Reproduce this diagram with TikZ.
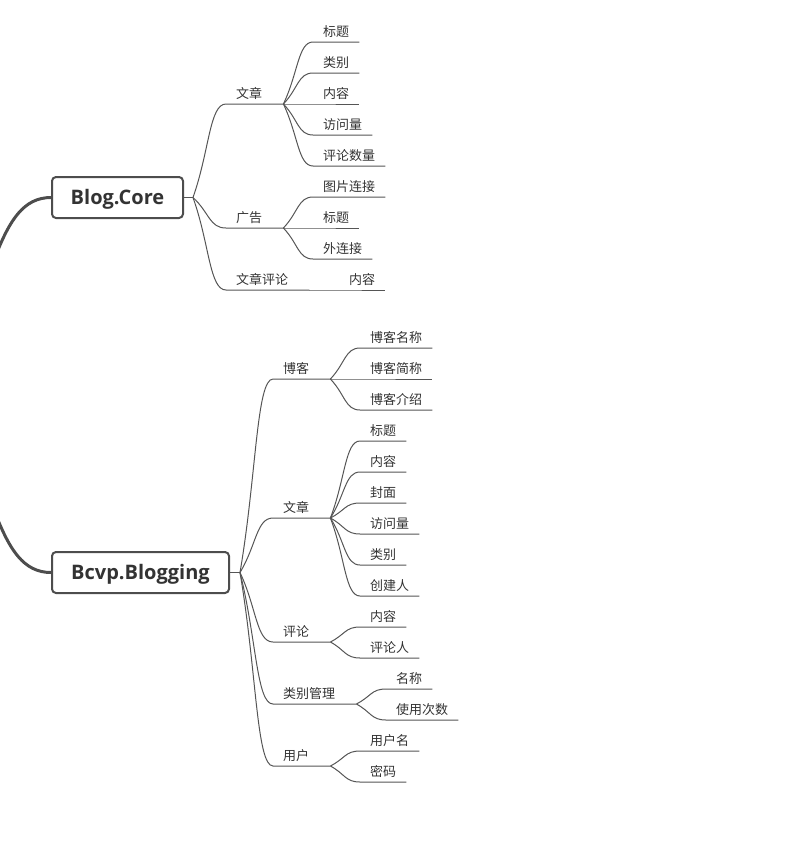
\documentclass[tikz,border=0pt]{standalone}
\usepackage{fontspec}
\setmainfont{Open Sans}
\newfontfamily\cjk{Noto Sans CJK SC}
\usetikzlibrary{calc}
\definecolor{inkgray}{HTML}{333333}
\definecolor{linegray}{HTML}{555555}
\definecolor{boxgray}{HTML}{4D4D4D}
\tikzset{
  rootbox/.style={draw=boxgray, line width=2pt, rounded corners=4pt, fill=white,
    minimum height=41pt, inner sep=0pt, text height=14.5pt, text depth=0pt, text=inkgray,
    font=\fontsize{20}{24}\selectfont\bfseries},
  topic/.style={anchor=south west, inner xsep=10pt, inner ysep=3pt,
    text height=10pt, text depth=2pt, text=inkgray,
    font=\cjk\fontsize{13}{15}\selectfont},
  twig/.style={to path={.. controls ($(\tikztostart)!.5!(\tikztotarget)$)
    and ($(\tikztotarget)!.5!(\tikztostart|-\tikztotarget)$) .. (\tikztotarget) \tikztonodes}},
  line/.style={draw=linegray, line width=1pt},
  limb/.style={draw=boxgray, line width=3pt}
}

\begin{document}
\begin{tikzpicture}[x=1pt,y=-1pt]
 \useasboundingbox (0,0) rectangle (807,865);
 % two main topics
 \node[rootbox, minimum width=131pt] (core) at (117.5,197.5) {Blog.Core};
 \node[rootbox, minimum width=177pt] (bcvp) at (140.5,572.5) {Bcvp.Blogging};
 \coordinate (fcore) at ([xshift=9pt]core.east);
 \coordinate (fbcvp) at ([xshift=10pt]bcvp.east);
 \begin{scope}
  \clip (0,0) rectangle (807,865);
  \coordinate (hub) at (-60,385);
  \draw[limb] (hub) to[twig] (core.west);
  \draw[limb] (hub) to[twig] (bcvp.west);
 \end{scope}

 % Blog.Core
 \node[topic] (c1) at (226,104) {文章};
 \node[topic] (c2) at (226,228) {广告};
 \node[topic] (c3) at (226,290) {文章评论};
 \coordinate (fc1) at ([xshift=11pt]c1.south east);
 \coordinate (fc2) at ([xshift=11pt]c2.south east);
 \coordinate (fc3) at ([xshift=11pt]c3.south east);
 \node[topic] (c11) at (313,42) {标题};
 \node[topic] (c12) at (313,73) {类别};
 \node[topic] (c13) at (313,104) {内容};
 \node[topic] (c14) at (313,135) {访问量};
 \node[topic] (c15) at (313,166) {评论数量};
 \node[topic] (c21) at (313,197) {图片连接};
 \node[topic] (c22) at (313,228) {标题};
 \node[topic] (c23) at (313,259) {外连接};
 \node[topic] (c31) at (339,290) {内容};

 % Bcvp.Blogging
 \node[topic] (b1) at (273,379) {博客};
 \node[topic] (b2) at (273,518) {文章};
 \node[topic] (b3) at (273,642) {评论};
 \node[topic] (b4) at (273,704) {类别管理};
 \node[topic] (b5) at (273,766) {用户};
 \coordinate (fb1) at ([xshift=11pt]b1.south east);
 \coordinate (fb2) at ([xshift=11pt]b2.south east);
 \coordinate (fb3) at ([xshift=11pt]b3.south east);
 \coordinate (fb4) at ([xshift=11pt]b4.south east);
 \coordinate (fb5) at ([xshift=11pt]b5.south east);
 \node[topic] (b11) at (360,348) {博客名称};
 \node[topic] (b12) at (360,379) {博客简称};
 \node[topic] (b13) at (360,410) {博客介绍};
 \node[topic] (b21) at (360,441) {标题};
 \node[topic] (b22) at (360,472) {内容};
 \node[topic] (b23) at (360,503) {封面};
 \node[topic] (b24) at (360,534) {访问量};
 \node[topic] (b25) at (360,565) {类别};
 \node[topic] (b26) at (360,596) {创建人};
 \node[topic] (b31) at (360,627) {内容};
 \node[topic] (b32) at (360,658) {评论人};
 \node[topic] (b41) at (386,689) {名称};
 \node[topic] (b42) at (386,720) {使用次数};
 \node[topic] (b51) at (360,751) {用户名};
 \node[topic] (b52) at (360,782) {密码};

 % connectors
 \draw[line] (core.east) -- (fcore);
 \draw[line] (bcvp.east) -- (fbcvp);
 \foreach \k in {c1,c2,c3}
  \draw[line] (fcore) to[twig] (\k.south west) -- (f\k);
 \foreach \k in {b1,b2,b3,b4,b5}
  \draw[line] (fbcvp) to[twig] (\k.south west) -- (f\k);
 \foreach \k in {c11,c12,c13,c14,c15}
  \draw[line] (fc1) to[twig] (\k.south west) -- (\k.south east);
 \foreach \k in {c21,c22,c23}
  \draw[line] (fc2) to[twig] (\k.south west) -- (\k.south east);
 \draw[line] (fc3) to[twig] (c31.south west) -- (c31.south east);
 \foreach \k in {b11,b12,b13}
  \draw[line] (fb1) to[twig] (\k.south west) -- (\k.south east);
 \foreach \k in {b21,b22,b23,b24,b25,b26}
  \draw[line] (fb2) to[twig] (\k.south west) -- (\k.south east);
 \foreach \k in {b31,b32}
  \draw[line] (fb3) to[twig] (\k.south west) -- (\k.south east);
 \foreach \k in {b41,b42}
  \draw[line] (fb4) to[twig] (\k.south west) -- (\k.south east);
 \foreach \k in {b51,b52}
  \draw[line] (fb5) to[twig] (\k.south west) -- (\k.south east);
\end{tikzpicture}
\end{document}
